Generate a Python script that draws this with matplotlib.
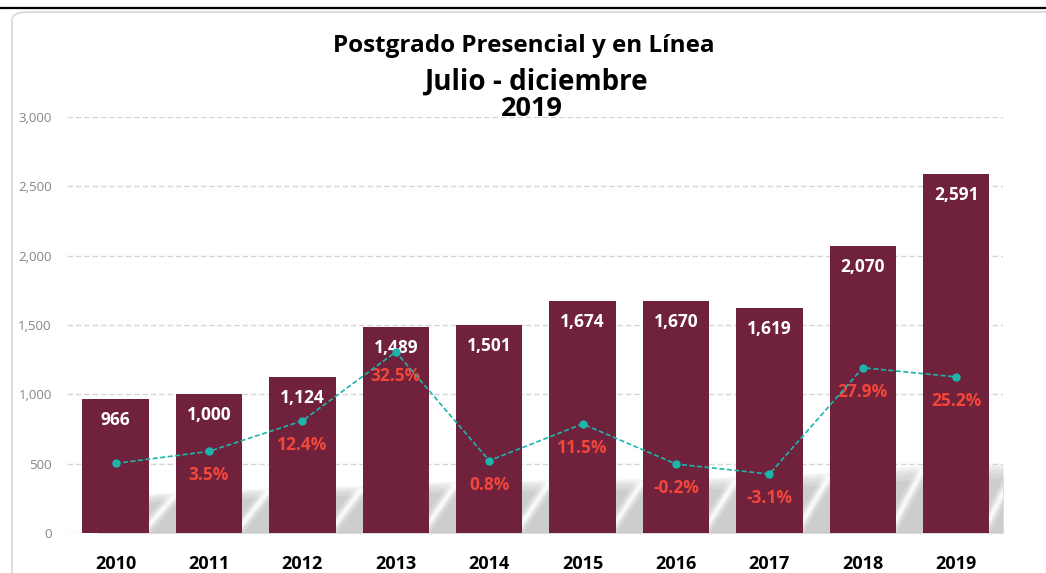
import matplotlib.pyplot as plt
import numpy as np
from matplotlib.patches import FancyBboxPatch
from matplotlib.lines import Line2D

# données
annees = ["2010", "2011", "2012", "2013", "2014", "2015", "2016", "2017", "2018", "2019"]
inscritos = [966, 1000, 1124, 1489, 1501, 1674, 1670, 1619, 2070, 2591]
crecimiento = [0.0, 3.5, 12.4, 32.5, 0.8, 11.5, -0.2, -3.1, 27.9, 25.2]
etiquetas_crec = ["", "3.5%", "12.4%", "32.5%", "0.8%", "11.5%", "-0.2%", "-3.1%", "27.9%", "25.2%"]

# ombre décorative (profil approximatif du bandeau gris)
ombre_x = [-0.2, 0.5, 1.5, 2.5, 3.5, 4.5, 5.5, 6.5, 7.5, 8.5, 9.5]
ombre_haut = [230, 290, 320, 340, 370, 380, 390, 400, 430, 480, 500]

COULEUR_BARRE = "#70223C"
COULEUR_LIGNE = "#1CB5AC"
COULEUR_PCT = "#F2463A"
POLICE = "Open Sans"

plt.rcParams["font.family"] = [POLICE, "DejaVu Sans"]

fig = plt.figure(figsize=(10.46, 5.73), dpi=100)

# cadre
fig.add_artist(Line2D([0, 1], [1 - 8 / 573, 1 - 8 / 573], color="black", lw=1.6, transform=fig.transFigure))
cadre = FancyBboxPatch((12 / 1046, -0.05), 1.1, 1 - 12 / 573 + 0.05, boxstyle="round,pad=0,rounding_size=0.015",
                       transform=fig.transFigure, facecolor="none", edgecolor="#d8d8d8", lw=1.2)
fig.add_artist(cadre)

ax = fig.add_axes([67 / 1046, 1 - 533 / 573, (1003 - 67) / 1046, (533 - 117) / 573])
x = np.arange(len(annees))

ax.set_xlim(-0.52, 9.5)
ax.set_ylim(0, 3000)

# bandeau gris, bord supérieur adouci
haut = np.array(ombre_haut, dtype=float)
for k, f in enumerate(np.linspace(1.0, 0.8, 6)):
    ax.fill_between(ombre_x, 0, haut * f, color="#c8c8c8", alpha=0.22 if k < 5 else 0.6, lw=0, zorder=1)
for gx, gh in zip(ombre_x[1:], ombre_haut[1:]):
    for lw, a in [(9, 0.25), (5, 0.45), (2.5, 0.7)]:
        ax.plot([gx - 0.2, gx + 0.14], [0.05 * gh, 0.95 * gh], color="white", lw=lw, alpha=a,
                solid_capstyle="butt", zorder=1.5)

barres = ax.bar(x, inscritos, width=0.71, color=COULEUR_BARRE, zorder=2)
for xi, v in zip(x, inscritos):
    ax.annotate(f"{v:,}", (xi, v), xytext=(0, -21), textcoords="offset pixels",
                ha="center", va="center", color="white", fontsize=12.5, fontweight="bold", zorder=5)

ax.set_yticks([0, 500, 1000, 1500, 2000, 2500, 3000])
ax.yaxis.set_major_formatter(plt.FuncFormatter(lambda v, p: f"{int(v):,}"))
ax.grid(axis="y", color="#d6d6d6", ls=(0, (4, 2)), lw=1)
ax.set_axisbelow(True)
ax.set_xticks(x)
ax.set_xticklabels(annees, fontsize=13, fontweight="bold")
ax.tick_params(axis="x", length=0, pad=16)
ax.tick_params(axis="y", length=0, pad=11, labelsize=9.5, labelcolor="#858585")
for s in ax.spines.values():
    s.set_visible(False)

# ligne de croissance sur axe secondaire caché
ax2 = ax.twinx()
ax2.set_ylim(-20.3, 101)
ax2.plot(x, crecimiento, ls=(0, (3, 1.5)), lw=1.2, color=COULEUR_LIGNE, marker="o", ms=5, zorder=4)
for xi, v, t in zip(x, crecimiento, etiquetas_crec):
    if t:
        ax2.annotate(t, (xi, v), xytext=(0, -24), textcoords="offset pixels",
                     ha="center", va="center", color=COULEUR_PCT, fontsize=12.5, fontweight="bold")
ax2.set_yticks([])
for s in ax2.spines.values():
    s.set_visible(False)

fig.text(524 / 1046, 1 - 52 / 573, "Postgrado Presencial y en Línea", ha="center", va="baseline",
         fontsize=17.5, fontweight="bold")
fig.text(536 / 1046, 1 - 90 / 573, "Julio - diciembre", ha="center", va="baseline",
         fontsize=20, fontweight="bold")
fig.text(532 / 1046, 1 - 116 / 573, "2019", ha="center", va="baseline",
         fontsize=19.5, fontweight="bold")

fig.savefig("out.png", dpi=100)
